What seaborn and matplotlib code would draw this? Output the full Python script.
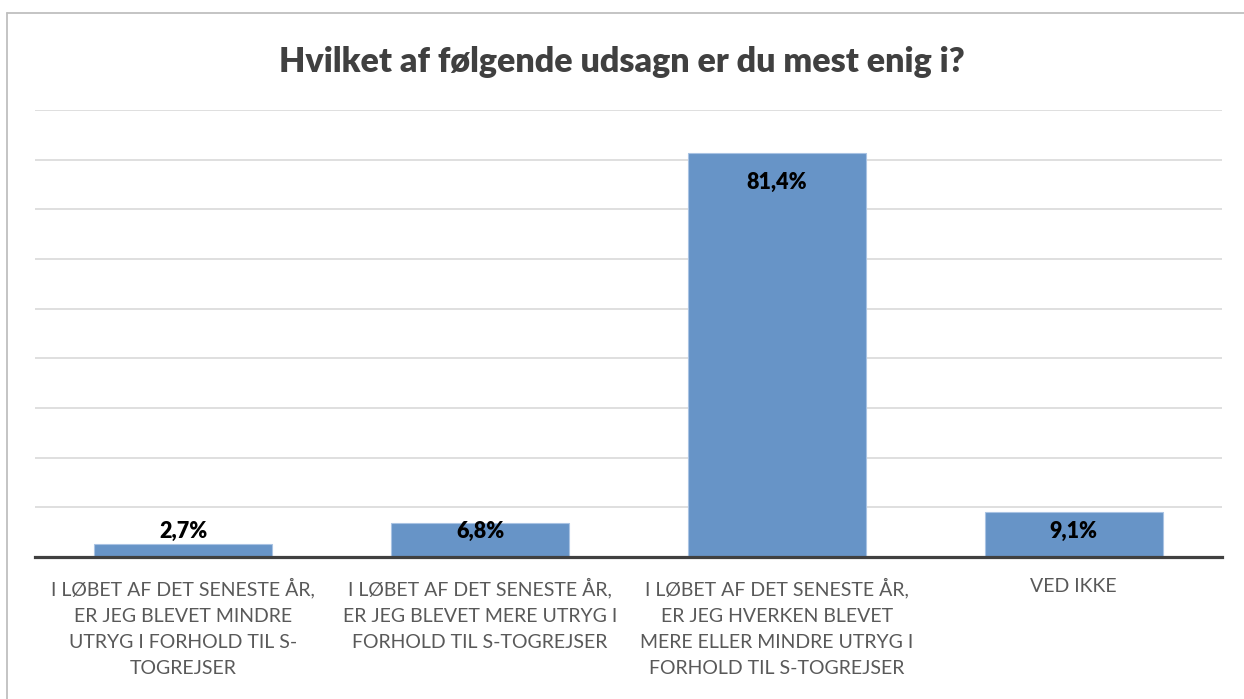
import matplotlib
matplotlib.use("Agg")
import matplotlib.pyplot as plt
import seaborn as sns
import pandas as pd
from matplotlib.lines import Line2D

categories = [
    "I LØBET AF DET SENESTE ÅR,\nER JEG BLEVET MINDRE\nUTRYG I FORHOLD TIL S-\nTOGREJSER",
    "I LØBET AF DET SENESTE ÅR,\nER JEG BLEVET MERE UTRYG I\nFORHOLD TIL S-TOGREJSER",
    "I LØBET AF DET SENESTE ÅR,\nER JEG HVERKEN BLEVET\nMERE ELLER MINDRE UTRYG I\nFORHOLD TIL S-TOGREJSER",
    "VED IKKE",
]
values = [2.7, 6.8, 81.4, 9.1]
value_labels = ["2,7%", "6,8%", "81,4%", "9,1%"]
title = "Hvilket af følgende udsagn er du mest enig i?"

sns.set_theme(style="white")
plt.rcParams["font.family"] = ["Lato", "DejaVu Sans"]

W, H = 1244, 699
fig = plt.figure(figsize=(W / 100, H / 100), dpi=100)
ax = fig.add_axes([35 / W, 1 - 557 / H, (1222 - 35) / W, (557 - 110) / H])

df = pd.DataFrame({"cat": categories, "val": values})
sns.barplot(data=df, x="cat", y="val", color="#6794c7", width=0.6,
            edgecolor="#a9c3e3", linewidth=0.8, saturation=1, ax=ax, zorder=3)

ax.set_ylim(0, 90)
ax.set_xlim(-0.5, 3.5)
ax.set_yticks(range(10, 91, 10))
ax.yaxis.grid(True, color="#d9d9d9", linewidth=1.2, zorder=0)
ax.set_axisbelow(True)
ax.tick_params(axis="y", left=False, labelleft=False)
ax.tick_params(axis="x", length=0, pad=15, labelsize=14, labelcolor="#595959")
for lbl in ax.get_xticklabels():
    lbl.set_linespacing(1.66)
for s in ["left", "right", "top"]:
    ax.spines[s].set_visible(False)
ax.spines["bottom"].set_color("#404040")
ax.spines["bottom"].set_linewidth(2.3)
ax.spines["bottom"].set_zorder(5)
ax.set_xlabel("")
ax.set_ylabel("")

for i, (v, t) in enumerate(zip(values, value_labels)):
    y = max(v - 5.9, 5.1)
    ax.text(i, y, t, ha="center", va="center", fontsize=15.5, fontweight="heavy",
            color="black", zorder=6)

fig.text(0.5, 1 - 62 / H, title, ha="center", va="center", fontsize=24.5,
         fontweight="heavy", color="#404040")

# outer chart border (partly off-canvas)
fig.add_artist(Line2D([7.5 / W, 1], [1 - 12.5 / H, 1 - 12.5 / H],
                      color="#bfbfbf", linewidth=1.3, transform=fig.transFigure))
fig.add_artist(Line2D([7.5 / W, 7.5 / W], [1 - 12.5 / H, 0],
                      color="#bfbfbf", linewidth=1.3, transform=fig.transFigure))

fig.savefig("out.png", dpi=100)
